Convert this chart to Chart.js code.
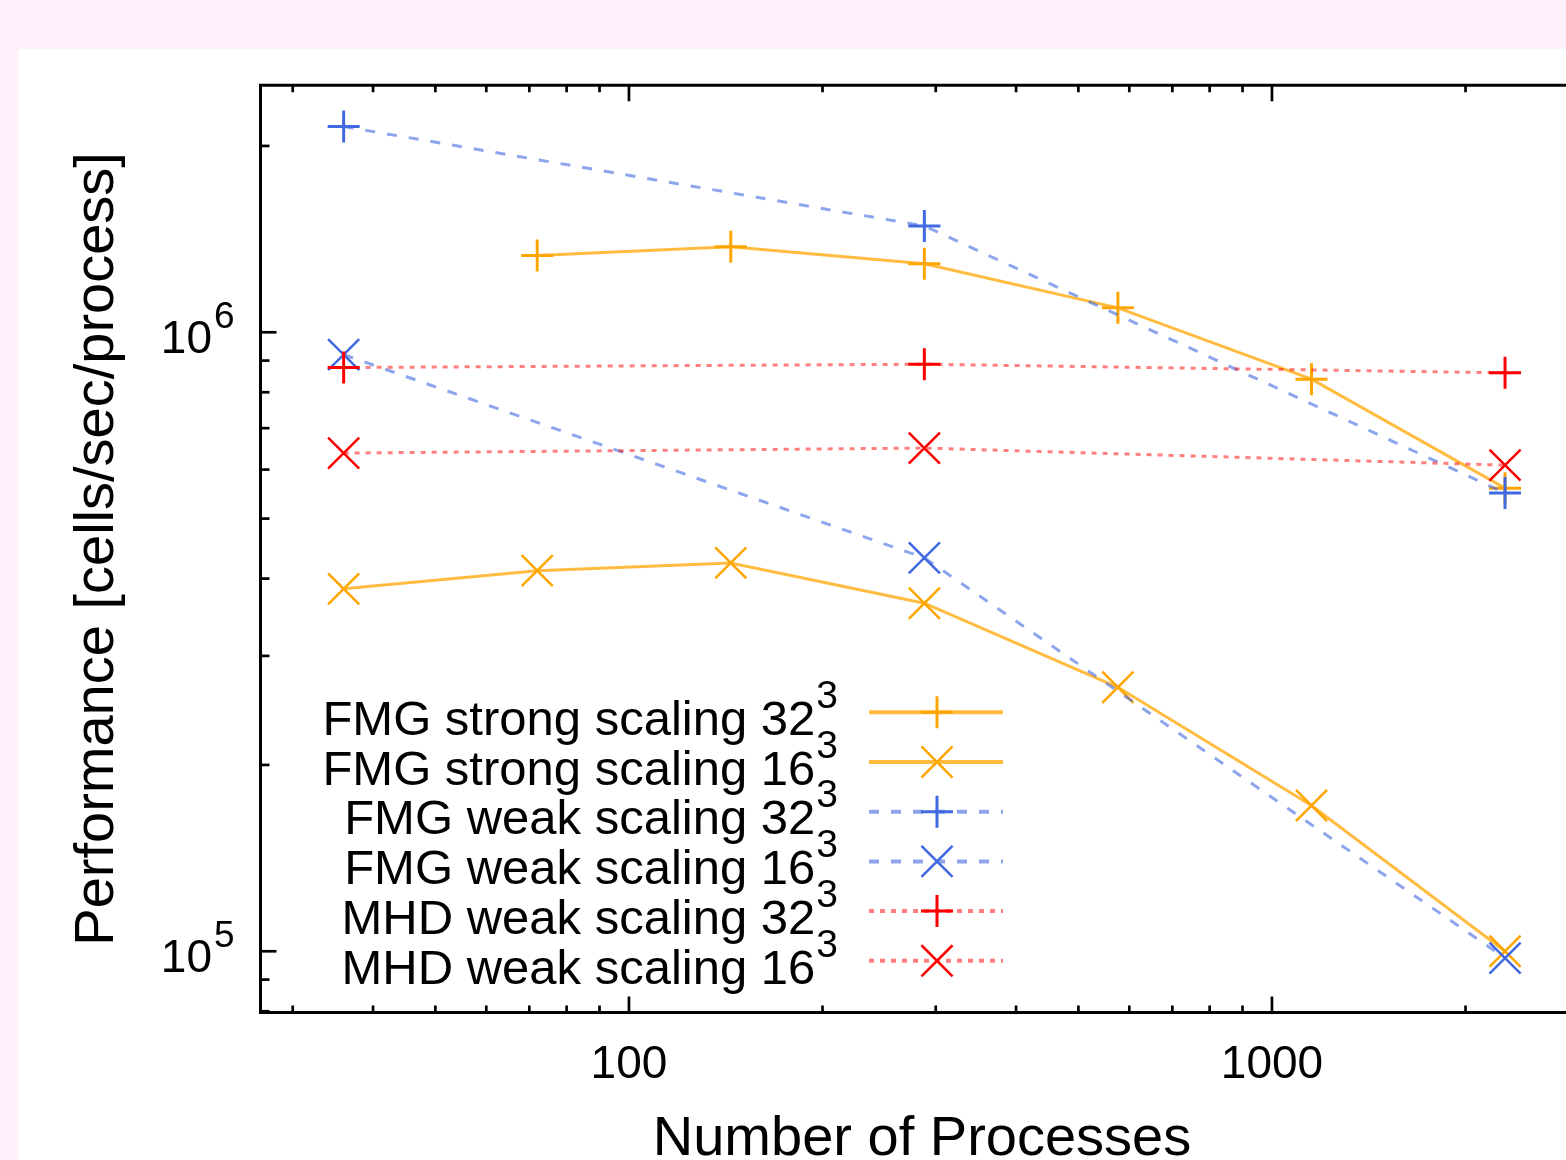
<!DOCTYPE html>
<html><head><meta charset="utf-8">
<script src="https://cdn.jsdelivr.net/npm/chart.js@4.4.1/dist/chart.umd.min.js"></script>
<style>
html,body{margin:0;padding:0;background:#fff0fb;overflow:hidden;}
canvas{display:block;}
</style></head><body>
<canvas id="c" width="1566" height="1160" style="width:1566px;height:1160px"></canvas>
<script>
// ---- data ----
const procsStrong32 = [72, 144, 288, 576, 1152, 2304];
const fmgStrong32   = [1.33e6, 1.375e6, 1.29e6, 1.095e6, 8.4e5, 5.6e5];
const procsStrong16 = [36, 72, 144, 288, 576, 1152, 2304];
const fmgStrong16   = [3.85e5, 4.12e5, 4.24e5, 3.65e5, 2.67e5, 1.72e5, 1.0e5];
const procsWeak     = [36, 288, 2304];
const fmgWeak32     = [2.15e6, 1.485e6, 5.5e5];
const fmgWeak16     = [9.2e5, 4.32e5, 9.75e4];
const mhdWeak32     = [8.77e5, 8.88e5, 8.6e5];
const mhdWeak16     = [6.38e5, 6.5e5, 6.1e5];
const seriesNames   = ['FMG strong scaling 32', 'FMG strong scaling 16', 'FMG weak scaling 32',
                       'FMG weak scaling 16', 'MHD weak scaling 32', 'MHD weak scaling 16'];
const seriesExps    = ['3', '3', '3', '3', '3', '3'];
const xMajorTicks   = [100, 1000];
const xTickLabels   = ['100', '1000'];
const xMinorTicks   = [30, 40, 50, 60, 70, 80, 90, 200, 300, 400, 500, 600, 700, 800, 900, 2000];
const yMajorTicks   = [1e5, 1e6];
const yTickBases    = ['10', '10'];
const yTickExps     = ['5', '6'];
const yMinorTicks   = [8e4, 9e4, 2e5, 3e5, 4e5, 5e5, 6e5, 7e5, 8e5, 9e5, 2e6];
const xTitle = 'Number of Processes';
const yTitle = 'Performance [cells/sec/process]';

const FONT = '"Liberation Sans", Arial, Helvetica, sans-serif';
const pts = (xs, ys) => xs.map((x, i) => ({x: x, y: ys[i]}));

const ORANGE = '#ffa500', BLUE = '#4169e1', RED = '#ff0000';
const styles = [
  {line: 'rgba(255,165,0,0.75)', mark: ORANGE, style: 'cross', r: 16, pw: 3, dash: []},
  {line: 'rgba(255,165,0,0.75)', mark: ORANGE, style: 'crossRot', r: 22, pw: 2.5, dash: []},
  {line: 'rgba(65,105,225,0.6)', mark: BLUE, style: 'cross', r: 16, pw: 3, dash: [10, 12]},
  {line: 'rgba(65,105,225,0.6)', mark: BLUE, style: 'crossRot', r: 22, pw: 2.5, dash: [10, 12]},
  {line: 'rgba(255,0,0,0.5)', mark: RED, style: 'cross', r: 16, pw: 3, dash: [5, 6]},
  {line: 'rgba(255,0,0,0.5)', mark: RED, style: 'crossRot', r: 22, pw: 2.5, dash: [5, 6]},
];
const seriesData = [
  pts(procsStrong32, fmgStrong32), pts(procsStrong16, fmgStrong16),
  pts(procsWeak, fmgWeak32), pts(procsWeak, fmgWeak16),
  pts(procsWeak, mhdWeak32), pts(procsWeak, mhdWeak16)
];

const datasets = seriesData.map((d, i) => ({
  label: seriesNames[i] + '\u00b3',
  data: d,
  borderColor: styles[i].line,
  borderWidth: 3,
  borderDash: styles[i].dash,
  pointStyle: styles[i].style,
  pointRadius: styles[i].r,
  pointHoverRadius: styles[i].r,
  pointBorderColor: styles[i].mark,
  pointBackgroundColor: 'rgba(0,0,0,0)',
  pointBorderWidth: styles[i].pw,
  fill: false,
  tension: 0,
  order: seriesData.length - i,
  clip: false
}));

function drawMarker(ctx, style, x, y, r, color, w) {
  ctx.save();
  ctx.setLineDash([]);
  ctx.strokeStyle = color; ctx.lineWidth = w;
  ctx.beginPath();
  if (style === 'cross') {
    ctx.moveTo(x - r, y); ctx.lineTo(x + r, y);
    ctx.moveTo(x, y - r); ctx.lineTo(x, y + r);
  } else {
    const o = r * Math.cos(Math.PI / 4);
    ctx.moveTo(x - o, y - o); ctx.lineTo(x + o, y + o);
    ctx.moveTo(x - o, y + o); ctx.lineTo(x + o, y - o);
  }
  ctx.stroke();
  ctx.restore();
}

const decor = {
  id: 'decor',
  beforeDraw(chart) {
    const ctx = chart.ctx;
    ctx.save();
    ctx.fillStyle = '#fff0fb';
    ctx.fillRect(0, 0, chart.width, chart.height);
    ctx.fillStyle = '#ffffff';
    ctx.fillRect(18, 49, chart.width - 18, chart.height - 49);
    ctx.restore();
  },
  afterDraw(chart) {
    const ctx = chart.ctx, a = chart.chartArea;
    const xs = chart.scales.x, ys = chart.scales.y;
    ctx.save();
    ctx.strokeStyle = '#000'; ctx.lineWidth = 3; ctx.setLineDash([]);
    // frame (right side lies outside the picture)
    ctx.beginPath();
    ctx.moveTo(chart.width + 5, a.top); ctx.lineTo(a.left, a.top);
    ctx.lineTo(a.left, a.bottom); ctx.lineTo(chart.width + 5, a.bottom);
    ctx.stroke();
    // ticks (inward, mirrored on top)
    ctx.lineWidth = 2.7;
    const xt = (v, len) => {
      const px = xs.getPixelForValue(v);
      ctx.beginPath();
      ctx.moveTo(px, a.bottom); ctx.lineTo(px, a.bottom - len);
      ctx.moveTo(px, a.top); ctx.lineTo(px, a.top + len);
      ctx.stroke();
    };
    xMajorTicks.forEach(v => xt(v, 16));
    xMinorTicks.forEach(v => xt(v, 7));
    const yt = (v, len) => {
      const py = ys.getPixelForValue(v);
      ctx.beginPath();
      ctx.moveTo(a.left, py); ctx.lineTo(a.left + len, py);
      ctx.stroke();
    };
    yMajorTicks.forEach(v => yt(v, 16));
    yMinorTicks.forEach(v => yt(v, 9));

    ctx.fillStyle = '#000';
    // x tick labels
    ctx.font = '46px ' + FONT;
    ctx.textAlign = 'center'; ctx.textBaseline = 'alphabetic';
    xMajorTicks.forEach((v, i) => {
      ctx.fillText(xTickLabels[i], xs.getPixelForValue(v), 1078);
    });
    // y tick labels with superscript
    yMajorTicks.forEach((v, i) => {
      const py = ys.getPixelForValue(v);
      ctx.font = '37px ' + FONT; ctx.textAlign = 'left';
      ctx.fillText(yTickExps[i], 214, py - 4);
      ctx.font = '46px ' + FONT; ctx.textAlign = 'right';
      ctx.fillText(yTickBases[i], 212, py + 21);
    });
    // axis titles
    ctx.font = '56px ' + FONT; ctx.textAlign = 'center';
    ctx.fillText(xTitle, 922, 1155);
    ctx.save();
    ctx.translate(113, (a.top + a.bottom) / 2);
    ctx.rotate(-Math.PI / 2);
    ctx.fillText(yTitle, 0, 0);
    ctx.restore();

    // legend
    chart.data.datasets.forEach((ds, i) => {
      const ly = 712.3 + i * 49.7;
      ctx.font = '39px ' + FONT; ctx.textAlign = 'right';
      const supW = ctx.measureText(seriesExps[i]).width;
      ctx.fillText(seriesExps[i], 838, ly - 4.3);
      ctx.font = '49px ' + FONT;
      ctx.fillText(seriesNames[i], 838 - supW - 1, ly + 22.7);
      ctx.save();
      ctx.strokeStyle = ds.borderColor; ctx.lineWidth = 4;
      ctx.setLineDash(ds.borderDash);
      ctx.beginPath(); ctx.moveTo(869, ly); ctx.lineTo(1003, ly); ctx.stroke();
      ctx.restore();
      drawMarker(ctx, ds.pointStyle, 937, ly, ds.pointRadius, ds.pointBorderColor, ds.pointBorderWidth);
    });
    ctx.restore();
  }
};

new Chart(document.getElementById('c'), {
  type: 'line',
  data: {datasets: datasets},
  options: {
    responsive: false,
    animation: false,
    events: [],
    devicePixelRatio: 1,
    layout: {autoPadding: false, padding: {left: 260.5, top: 85.3, right: 0, bottom: 147.5}},
    scales: {
      x: {type: 'logarithmic', min: 26.73, max: 2866, display: false},
      y: {type: 'logarithmic', min: 7.963e4, max: 2.506e6, display: false}
    },
    plugins: {legend: {display: false}, tooltip: {enabled: false}, title: {display: false}}
  },
  plugins: [decor]
});
</script>
</body></html>
